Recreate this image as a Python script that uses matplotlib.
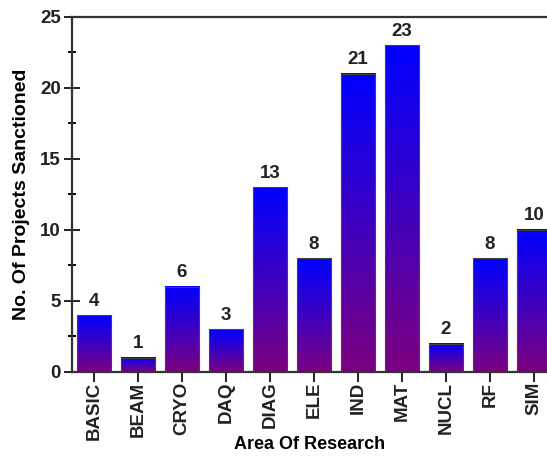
import numpy as np
import matplotlib.pyplot as plt
from matplotlib.colors import LinearSegmentedColormap
from matplotlib.ticker import MultipleLocator

plt.rcParams['font.family'] = ['Liberation Sans', 'DejaVu Sans']
plt.rcParams['font.weight'] = 'bold'

areas = ['BASIC', 'BEAM', 'CRYO', 'DAQ', 'DIAG', 'ELE', 'IND', 'MAT', 'NUCL', 'RF', 'SIM']
projects = [4, 1, 6, 3, 13, 8, 21, 23, 2, 8, 10]

fig = plt.figure(figsize=(5.47, 4.57), dpi=100)
ax = fig.add_axes([0.1316, 0.186, 0.8684, 0.777])

# gradient purple (bottom) -> blue (top)
cmap = LinearSegmentedColormap.from_list('pb', ['#7c0080', '#0000ff'])
grad = np.linspace(0, 1, 256).reshape(-1, 1)
width = 0.78
x = np.arange(len(areas))
for xi, v in zip(x, projects):
    ax.imshow(grad, cmap=cmap, origin='lower', aspect='auto',
              extent=(xi - width / 2, xi + width / 2, 0, v), zorder=2)
    ax.text(xi, v + 0.4, str(v), ha='center', va='bottom', fontsize=13.5, fontweight='bold', color='#222222')
ax.bar(x, projects, width=width, fill=False, edgecolor='#444444', linewidth=0.8, zorder=3)

ax.set_xlim(-0.5, 10.3)
ax.set_ylim(0, 25)
ax.yaxis.set_major_locator(MultipleLocator(5))
ax.yaxis.set_minor_locator(MultipleLocator(2.5))
ax.set_xticks(x)
ax.set_xticklabels(areas, rotation=90, fontsize=13.5, fontweight='bold')
ax.tick_params(axis='y', which='major', direction='inout', length=12, width=1.4, labelsize=13.5, colors='#222222', pad=2)
ax.tick_params(axis='y', which='minor', direction='inout', length=6, width=1.4)
ax.tick_params(axis='x', direction='inout', length=14, width=1.4, colors='#222222', pad=0)
for t in ax.get_yticklabels():
    t.set_fontweight('bold')

for s in ['left', 'top', 'bottom']:
    ax.spines[s].set_linewidth(1.6)
    ax.spines[s].set_color('#333333')
    ax.spines[s].set_zorder(4)
ax.spines['right'].set_visible(False)

ax.set_ylabel('No. Of Projects Sanctioned', fontsize=14, fontweight='bold', va='center')
ax.yaxis.set_label_coords(-0.107, 0.5)
ax.set_xlabel('Area Of Research', fontsize=13, fontweight='bold', va='center')
ax.xaxis.set_label_coords(0.5, -0.205)

fig.savefig('out.png', dpi=100)
